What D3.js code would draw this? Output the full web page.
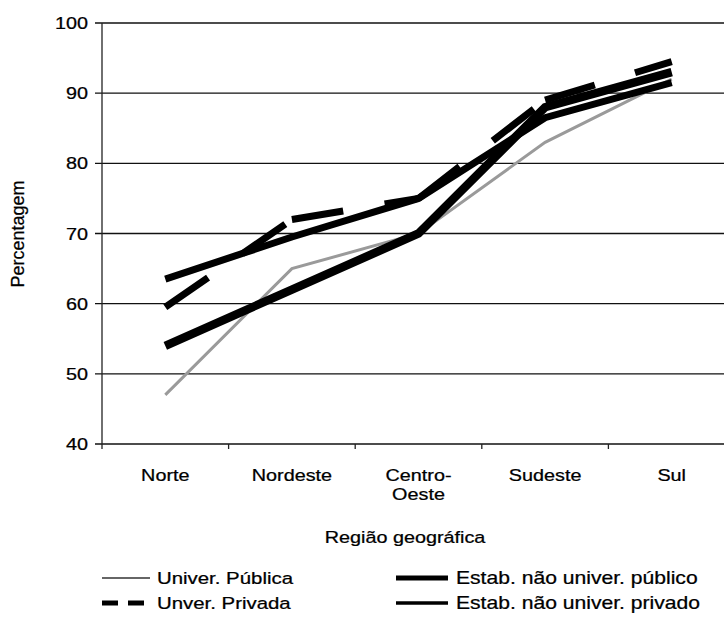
<!DOCTYPE html>
<html>
<head>
<meta charset="utf-8">
<script src="https://cdn.jsdelivr.net/npm/d3@7"></script>
<style>
  html, body { margin: 0; padding: 0; background: #fff; }
  svg { display: block; }
  text { font-family: "Liberation Sans", Arial, sans-serif; fill: #000; stroke: #000; stroke-width: 0.25; }
</style>
</head>
<body>
<div id="chart"></div>
<script>
// Data
const regions = ["Norte", "Nordeste", "Centro-Oeste", "Sudeste", "Sul"];
const regionLabels = [["Norte"], ["Nordeste"], ["Centro-", "Oeste"], ["Sudeste"], ["Sul"]];
const yTicks = [40, 50, 60, 70, 80, 90, 100];

const univPublica  = [47, 65, 70, 83, 92];
const univPrivada  = [59.5, 72, 75, 89, 94.5];
const estabPublico = [54, 62, 70, 88, 93];
const estabPrivado = [63.5, 69.5, 75, 86.5, 91.5];

const seriesNames = ["Univer. Pública", "Unver. Privada", "Estab. não univer. público", "Estab. não univer. privado"];

(function() {
  "use strict";

  const width = 724, height = 617;
  const SX = 1.2; // the scan is stretched sideways, so is the text

  const svg = d3.select("#chart").append("svg")
    .attr("width", width)
    .attr("height", height);

  const x = d3.scalePoint().domain(regions).range([102, 735]).padding(0.5);
  const xBand = d3.scaleBand().domain(regions).range([102, 735]);
  const y = d3.scaleLinear().domain([40, 100]).range([444, 23]);

  // helper: place text with horizontal stretch
  function wide(sel, px, py, sx) {
    return sel.attr("transform", `translate(${px},${py}) scale(${sx || SX},1)`);
  }

  // gridlines + y ticks
  svg.append("g")
    .selectAll("line")
    .data(yTicks)
    .join("line")
    .attr("x1", 95)
    .attr("x2", 735)
    .attr("y1", d => y(d))
    .attr("y2", d => y(d))
    .attr("stroke", "#111")
    .attr("stroke-width", d => d === 40 ? 1.6 : 1.3);

  // y axis line
  svg.append("line")
    .attr("x1", 102).attr("x2", 102)
    .attr("y1", y(100)).attr("y2", y(40))
    .attr("stroke", "#222").attr("stroke-width", 1.3);

  // x tick marks at band edges
  svg.append("g")
    .selectAll("line")
    .data(regions)
    .join("line")
    .attr("x1", d => xBand(d))
    .attr("x2", d => xBand(d))
    .attr("y1", y(40))
    .attr("y2", y(40) + 5)
    .attr("stroke", "#222")
    .attr("stroke-width", 1.3);

  // y tick labels
  svg.append("g")
    .selectAll("text")
    .data(yTicks)
    .join("text")
    .each(function(d) { wide(d3.select(this), 88, y(d) + 6); })
    .attr("text-anchor", "end")
    .attr("font-size", 16.5)
    .text(d => d);

  // x tick labels
  regions.forEach((r, i) => {
    regionLabels[i].forEach((line, j) => {
      wide(svg.append("text"), x(r), 481 + j * 19)
        .attr("text-anchor", "middle")
        .attr("font-size", 16.5)
        .text(line);
    });
  });

  // axis titles
  wide(svg.append("text"), 405, 543)
    .attr("text-anchor", "middle")
    .attr("font-size", 16.5)
    .text("Região geográfica");

  svg.append("text")
    .attr("transform", `translate(24,234) rotate(-90)`)
    .attr("text-anchor", "middle")
    .attr("font-size", 18)
    .text("Percentagem");

  // lines
  const line = d3.line()
    .x((d, i) => x(regions[i]))
    .y(d => y(d));

  svg.append("path")
    .datum(univPublica)
    .attr("d", line)
    .attr("fill", "none")
    .attr("stroke", "#9a9a9a")
    .attr("stroke-width", 3);

  svg.append("path")
    .datum(estabPrivado)
    .attr("d", line)
    .attr("fill", "none")
    .attr("stroke", "#000")
    .attr("stroke-width", 7);

  svg.append("path")
    .datum(estabPublico)
    .attr("d", line)
    .attr("fill", "none")
    .attr("stroke", "#000")
    .attr("stroke-width", 8.5);

  // dashed series: the dash pattern restarts at every point, as in the scan
  const pairs = d3.pairs(univPrivada.map((v, i) => [regions[i], v]));
  svg.append("g")
    .selectAll("path")
    .data(pairs)
    .join("path")
    .attr("d", d => d3.line().x(p => x(p[0])).y(p => y(p[1]))(d))
    .attr("fill", "none")
    .attr("stroke", "#000")
    .attr("stroke-width", 7)
    .attr("stroke-dasharray", "52,42");

  // legend
  const legend = [
    { name: seriesNames[0], x1: 102, x2: 150, tx: 157, ty: 578, stroke: "#666", w: 2, dash: null, fs: 17 },
    { name: seriesNames[1], x1: 102, x2: 144, tx: 157, ty: 603, stroke: "#000", w: 5, dash: "16,10", fs: 17 },
    { name: seriesNames[2], x1: 396, x2: 448, tx: 456, ty: 578, stroke: "#000", w: 5, dash: null, fs: 17.6 },
    { name: seriesNames[3], x1: 396, x2: 448, tx: 456, ty: 603, stroke: "#000", w: 3.5, dash: null, fs: 17.6 }
  ];

  const lg = svg.append("g");
  legend.forEach(d => {
    lg.append("line")
      .attr("x1", d.x1).attr("x2", d.x2)
      .attr("y1", d.ty).attr("y2", d.ty)
      .attr("stroke", d.stroke)
      .attr("stroke-width", d.w)
      .attr("stroke-dasharray", d.dash);
    wide(lg.append("text"), d.tx, d.ty + 6)
      .attr("font-size", d.fs)
      .text(d.name);
  });
})();
</script>
</body>
</html>
